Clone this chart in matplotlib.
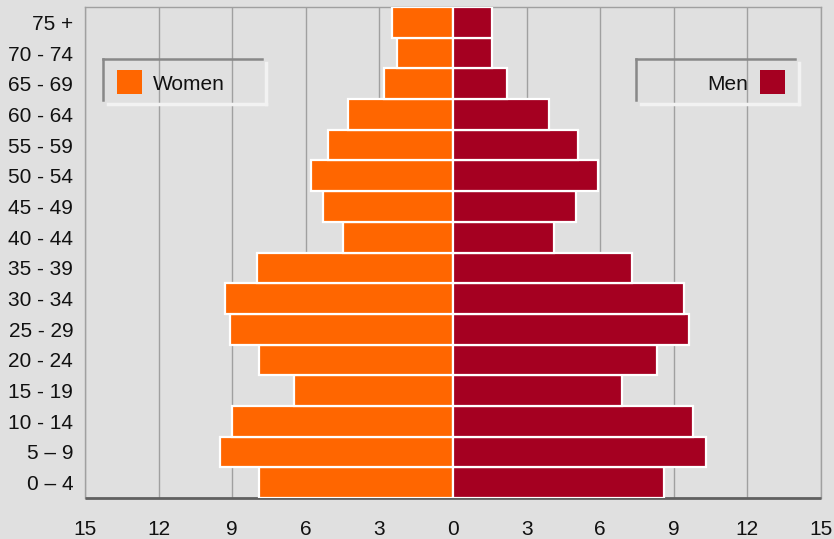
import matplotlib
matplotlib.use("Agg")
from matplotlib import pyplot as plt
from matplotlib.patches import Rectangle
from matplotlib.lines import Line2D

plt.rcParams['font.family'] = ['Liberation Sans', 'DejaVu Sans']

ages = ['0 – 4', '5 – 9', '10 - 14', '15 - 19', '20 - 24', '25 - 29', '30 - 34',
        '35 - 39', '40 - 44', '45 - 49', '50 - 54', '55 - 59', '60 - 64',
        '65 - 69', '70 - 74', '75 +']
women = [7.9, 9.5, 9.0, 6.5, 7.9, 9.1, 9.3, 8.0, 4.5, 5.3, 5.8, 5.1, 4.3, 2.8, 2.3, 2.5]
men = [8.6, 10.3, 9.8, 6.9, 8.3, 9.6, 9.4, 7.3, 4.1, 5.0, 5.9, 5.1, 3.9, 2.2, 1.6, 1.6]
names = ['Women', 'Men']
colors = ['#ff6600', '#a50021']
ticks = [-15, -12, -9, -6, -3, 0, 3, 6, 9, 12, 15]

bg = '#e0e0e0'
fs = 15
fig = plt.figure(figsize=(8.34, 5.39), dpi=100, facecolor=bg)
ax = fig.add_axes([85/834, 41/539, 736/834, 491/539], facecolor=bg)

y = range(len(ages))
ax.barh(y, [-w for w in women], height=1.0, color=colors[0], edgecolor='white', linewidth=1.6, zorder=3)
ax.barh(y, men, height=1.0, color=colors[1], edgecolor='white', linewidth=1.6, zorder=3)

ax.set_xlim(-15, 15)
ax.set_ylim(-0.5, len(ages) - 0.5)
ax.set_xticks(ticks)
ax.set_xticklabels([str(abs(t)) for t in ticks])
ax.set_yticks(list(y))
ax.set_yticklabels(ages)
ax.tick_params(axis='x', length=0, pad=16, labelsize=fs, colors='#111111')
ax.tick_params(axis='y', length=0, pad=8.5, labelsize=fs, colors='#111111')
ax.xaxis.grid(True, color='#a0a0a0', linewidth=1.0, zorder=0)
ax.set_axisbelow(True)
for s in ['top', 'right', 'left']:
    ax.spines[s].set_color('#a0a0a0')
    ax.spines[s].set_linewidth(1.0)
ax.spines['bottom'].set_color('#606060')
ax.spines['bottom'].set_linewidth(2.0)
ax.spines['bottom'].set_capstyle('butt')

# legend boxes with a bevelled border
W, H = 834, 539
def px(x, yy):
    return x / W, 1 - yy / H

def legend_box(x0, label, color, swatch_left):
    x1 = x0 + 159
    fig.add_artist(Line2D(*zip(px(x0 + 5, 104), px(x1 + 4, 104)), color='#f2f2f2', lw=2.5))
    fig.add_artist(Line2D(*zip(px(x1 + 4, 63), px(x1 + 4, 104)), color='#f2f2f2', lw=2.5))
    fig.add_artist(Line2D(*zip(px(x0, 59), px(x1, 59)), color='#888888', lw=1.8))
    fig.add_artist(Line2D(*zip(px(x0, 59), px(x0, 100)), color='#888888', lw=1.8))
    if swatch_left:
        sx = x0 + 14
        fig.text(*px(sx + 36, 83), label, fontsize=fs, color='#111111', ha='left', va='center_baseline')
    else:
        sx = x1 - 35
        fig.text(*px(sx - 12, 83), label, fontsize=fs, color='#111111', ha='right', va='center_baseline')
    fig.add_artist(Rectangle(px(sx, 94), 25 / W, 24 / H, transform=fig.transFigure,
                             facecolor=color, edgecolor='none'))

legend_box(103, names[0], colors[0], True)
legend_box(636, names[1], colors[1], False)

fig.savefig('out.png', dpi=100, facecolor=bg)
